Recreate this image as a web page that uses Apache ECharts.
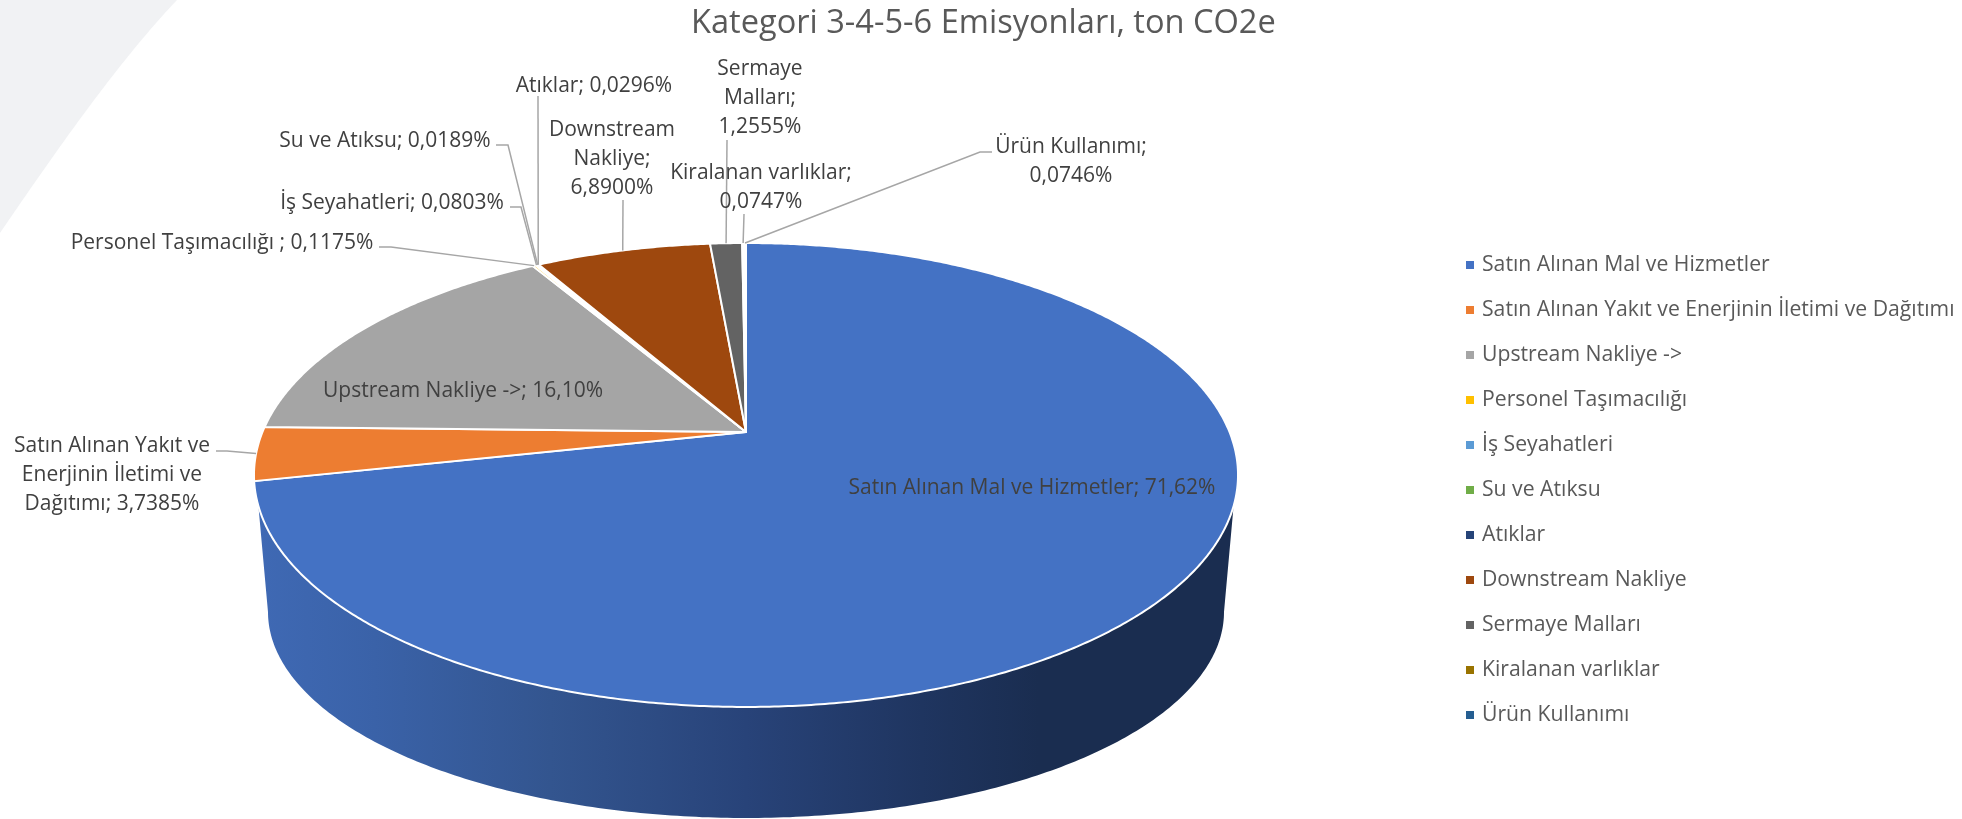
<!DOCTYPE html>
<html>
<head>
<meta charset="utf-8">
<style>html,body{margin:0;padding:0;background:#fff}#c{width:1962px;height:819px}</style>
<script src="https://cdn.jsdelivr.net/npm/echarts@6/dist/echarts.min.js"></script>
</head>
<body>
<div id="c"></div>
<script>
const chartTitle = 'Kategori 3-4-5-6 Emisyonları, ton CO2e';
const categories = ['Satın Alınan Mal ve Hizmetler','Satın Alınan Yakıt ve Enerjinin İletimi ve Dağıtımı','Upstream Nakliye ->','Personel Taşımacılığı','İş Seyahatleri','Su ve Atıksu','Atıklar','Downstream Nakliye','Sermaye Malları','Kiralanan varlıklar','Ürün Kullanımı'];
const shares = [71.62,3.7385,16.10,0.1175,0.0803,0.0189,0.0296,6.89,1.2555,0.0747,0.0746];
const labelTexts = ['Satın Alınan Mal ve Hizmetler; 71,62%','Satın Alınan Yakıt ve\nEnerjinin İletimi ve\nDağıtımı; 3,7385%','Upstream Nakliye ->; 16,10%','Personel Taşımacılığı ; 0,1175%','İş Seyahatleri; 0,0803%','Su ve Atıksu; 0,0189%','Atıklar; 0,0296%','Downstream\nNakliye;\n6,8900%','Sermaye\nMalları;\n1,2555%','Kiralanan varlıklar;\n0,0747%','Ürün Kullanımı;\n0,0746%'];
const colors = ['#4472C4','#ED7D31','#A5A5A5','#FFC000','#5B9BD5','#70AD47','#264478','#9E480E','#636363','#997300','#255E91'];

// Layout of the labels, separate from the data: text centre and the leader's fixed points.
const labelLayout = [
  {x:1032,y:488},
  {x:112,y:475,line:[[216,451],[227,451]]},
  {x:463,y:391},
  {x:222,y:243,line:[[379,247],[391,247]]},
  {x:392,y:203,line:[[510,207],[521,207]]},
  {x:385,y:141,line:[[496,145],[508,145]]},
  {x:594,y:86,line:[[538,96]]},
  {x:612,y:159,line:[[623,200]]},
  {x:760,y:98,line:[[727,140]]},
  {x:761,y:188,line:[[744,214]]},
  {x:1071,y:162,line:[[992,152],[980,152]]}
];

const FONT = '"Open Sans", sans-serif';
const total = shares.reduce((a,b)=>a+b,0);
// Perspective projection of the tilted disc.
const C = {x:746,y:432,r:483.5,k:224,b:-0.1853};
function rim(pct){
  const t = pct/total*2*Math.PI;
  const u = Math.sin(t), v = -Math.cos(t), d = 1+C.b*v;
  return [C.x+C.r*u/d, C.y+C.k*v/d];
}
const wallGradient = {type:'linear',x:0,y:0,x2:1,y2:0,colorStops:[
  {offset:0,color:'#3F69B4'},{offset:0.12,color:'#3A62A8'},{offset:0.30,color:'#33558F'},
  {offset:0.50,color:'#284379'},{offset:0.68,color:'#1F3560'},{offset:0.80,color:'#1A2D50'},{offset:1,color:'#1A2D50'}]};
function wallPoints(){
  const pts=[], top={x:746,y:475,rx:492,ry:232}, bot={x:746,y:612,rx:478,ry:206};
  const t0=Math.asin(31/232);
  for(let i=0;i<=240;i++){const t=t0+(Math.PI-2*t0)*i/240;pts.push([top.x+top.rx*Math.cos(t),top.y+top.ry*Math.sin(t)]);}
  for(let i=0;i<=240;i++){const t=Math.PI-Math.PI*i/240;pts.push([bot.x+bot.rx*Math.cos(t),bot.y+bot.ry*Math.sin(t)]);}
  return pts;
}
function backdropPoints(){
  const pts=[[0,0]];
  for(let i=0;i<=60;i++){const t=i/60,m=1-t;
    pts.push([m*m*m*177+3*m*m*t*120+3*m*t*t*60, 3*m*m*t*60+3*m*t*t*145+t*t*t*233]);}
  return pts;
}
function renderSlice(idx){
  return function(params, api){
    const value = api.value(0);
    let start = 0;
    for(let i=0;i<idx;i++) start += shares[i];
    const end = start+value, steps = Math.max(2,Math.ceil(value*8));
    const pts = [[C.x,C.y]];
    for(let i=0;i<=steps;i++) pts.push(rim(start+(end-start)*i/steps));
    const children = [];
    if(idx===0) children.push({type:'polygon',shape:{points:wallPoints()},style:{fill:wallGradient}});
    children.push({type:'polygon',shape:{points:pts},style:{fill:colors[idx],stroke:'#fff',lineWidth:2,lineJoin:'round'}});
    const lay = labelLayout[idx];
    if(lay.line){
      children.push({type:'polyline',shape:{points:lay.line.concat([rim((start+end)/2)])},style:{fill:'none',stroke:'#A6A6A6',lineWidth:1.5},z2:5});
    }
    children.push({type:'text',z2:10,style:{text:labelTexts[idx],x:lay.x,y:lay.y,align:'center',verticalAlign:'middle',fontFamily:FONT,fontSize:21,lineHeight:29,fill:'#404040'}});
    return {type:'group',children};
  };
}
const chart = echarts.init(document.getElementById('c'),null,{renderer:'canvas'});
chart.setOption({
  animation:false,
  backgroundColor:'#fff',
  color:colors,
  title:{text:chartTitle,left:686,top:0,padding:[7,0,0,5],textStyle:{fontFamily:FONT,fontSize:32.6,fontWeight:'normal',color:'#595959'}},
  legend:{orient:'vertical',left:1466,top:251.5,padding:0,icon:'rect',itemWidth:8,itemHeight:8,itemGap:18,data:categories,selectedMode:false,
    textStyle:{fontFamily:FONT,fontSize:21.2,lineHeight:27,color:'#595959',padding:[0,0,0,3]}},
  graphic:[{type:'polygon',silent:true,z:-1,shape:{points:backdropPoints()},style:{fill:'#F1F2F4'}}],
  series:categories.map((name,i)=>({type:'custom',name,coordinateSystem:'none',renderItem:renderSlice(i),itemStyle:{color:colors[i]},data:[[shares[i]]],silent:true}))
});
</script>
</body>
</html>
